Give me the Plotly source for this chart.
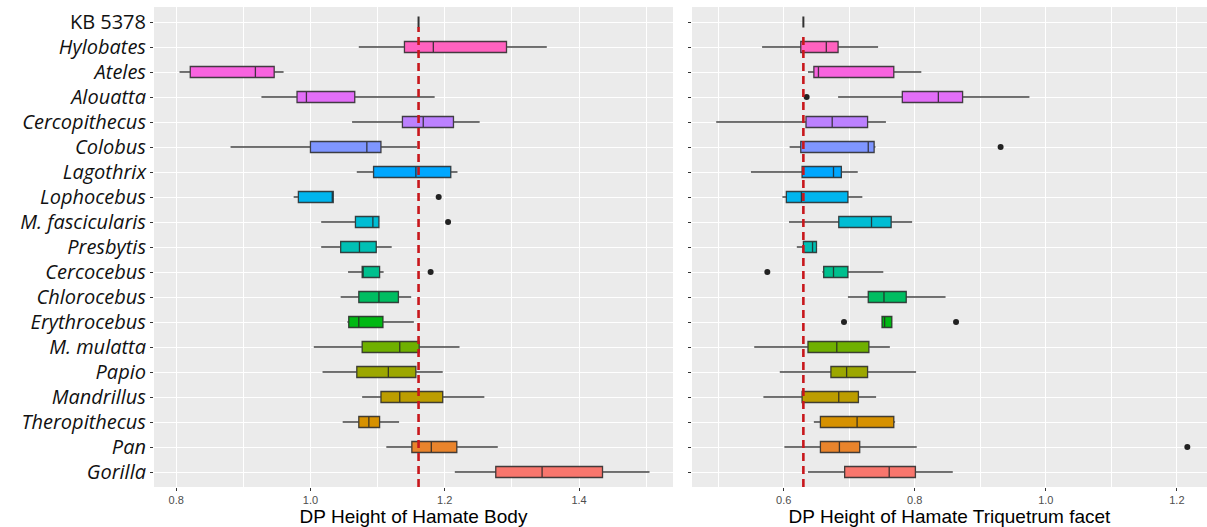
import math
import plotly.graph_objects as go
from plotly.subplots import make_subplots

# Taxa, top to bottom as listed on the axis (KB 5378 sits above them)
taxa = ["Hylobates", "Ateles", "Alouatta", "Cercopithecus", "Colobus", "Lagothrix",
        "Lophocebus", "M. fascicularis", "Presbytis", "Cercocebus", "Chlorocebus",
        "Erythrocebus", "M. mulatta", "Papio", "Mandrillus", "Theropithecus", "Pan", "Gorilla"]
fossil = "KB 5378"

# DP height of hamate body: whisker ends, quartiles, median
body_lo = [1.072, 0.805, 0.927, 1.062, 0.881, 1.069, 0.975, 1.016, 1.016, 1.056, 1.045, 1.055, 1.005, 1.018, 1.077, 1.048, 1.113, 1.215]
body_q1 = [1.140, 0.821, 0.980, 1.137, 1.000, 1.094, 0.982, 1.067, 1.045, 1.077, 1.072, 1.057, 1.077, 1.069, 1.105, 1.072, 1.151, 1.276]
body_med = [1.183, 0.918, 0.994, 1.168, 1.084, 1.157, 1.033, 1.093, 1.073, 1.078, 1.102, 1.072, 1.133, 1.116, 1.133, 1.087, 1.180, 1.345]
body_q3 = [1.292, 0.946, 1.066, 1.213, 1.105, 1.209, 1.034, 1.102, 1.098, 1.103, 1.131, 1.108, 1.162, 1.157, 1.197, 1.103, 1.218, 1.435]
body_hi = [1.352, 0.960, 1.185, 1.252, 1.159, 1.219, 1.034, 1.103, 1.121, 1.109, 1.150, 1.154, 1.222, 1.197, 1.259, 1.132, 1.279, 1.505]
body_out_taxa = ["Lophocebus", "M. fascicularis", "Cercocebus"]
body_out_vals = [1.191, 1.205, 1.179]
body_kb = 1.161

# DP height of hamate triquetrum facet
facet_lo = [0.567, 0.637, 0.683, 0.497, 0.609, 0.550, 0.598, 0.608, 0.620, 0.659, 0.698, 0.750, 0.555, 0.594, 0.569, 0.646, 0.601, 0.637]
facet_q1 = [0.626, 0.646, 0.781, 0.634, 0.626, 0.628, 0.604, 0.684, 0.630, 0.661, 0.729, 0.750, 0.637, 0.672, 0.628, 0.656, 0.656, 0.693]
facet_med = [0.665, 0.653, 0.836, 0.674, 0.729, 0.676, 0.627, 0.734, 0.644, 0.676, 0.753, 0.754, 0.681, 0.696, 0.684, 0.712, 0.685, 0.761]
facet_q3 = [0.683, 0.768, 0.873, 0.728, 0.738, 0.688, 0.698, 0.764, 0.650, 0.698, 0.787, 0.765, 0.730, 0.728, 0.714, 0.768, 0.716, 0.801]
facet_hi = [0.744, 0.810, 0.975, 0.756, 0.740, 0.713, 0.720, 0.796, 0.651, 0.752, 0.847, 0.765, 0.762, 0.802, 0.741, 0.770, 0.803, 0.858]
facet_out_taxa = ["Alouatta", "Colobus", "Cercocebus", "Erythrocebus", "Erythrocebus", "Pan"]
facet_out_vals = [0.635, 0.931, 0.575, 0.692, 0.863, 1.216]
facet_kb = 0.630

body_ticks = [0.8, 1.0, 1.2, 1.4]
facet_ticks = [0.6, 0.8, 1.0, 1.2]


def hcl_hex(h, c=100.0, l=65.0):
    """Polar-Luv colour to sRGB hex (ggplot2 hue palette)."""
    hr = math.radians(h)
    u, v = c * math.cos(hr), c * math.sin(hr)
    xn, yn, zn = 95.047, 100.0, 108.883
    y = yn * ((l + 16) / 116) ** 3
    den = xn + 15 * yn + 3 * zn
    un, vn = 4 * xn / den, 9 * yn / den
    up, vp = u / (13 * l) + un, v / (13 * l) + vn
    x = 9 * y * up / (4 * vp)
    z = -x / 3 - 5 * y + 3 * y / vp
    x, y, z = x / 100, y / 100, z / 100
    rgb = [3.240479 * x - 1.537150 * y - 0.498535 * z,
           -0.969256 * x + 1.875992 * y + 0.041556 * z,
           0.055648 * x - 0.204043 * y + 1.057311 * z]
    out = []
    for ch in rgb:
        ch = 12.92 * ch if ch <= 0.0031308 else 1.055 * ch ** (1 / 2.4) - 0.055
        out.append(int(round(max(0.0, min(1.0, ch)) * 255)))
    return "#%02X%02X%02X" % tuple(out)


# bottom-to-top order on the axis
levels = list(reversed(taxa)) + [fossil]
n = len(levels)
hues = [15 + i * 360 / n for i in range(n)]
colors = {lev: hcl_hex(h) for lev, h in zip(levels, hues)}


def label(t):
    return t if t == fossil else "<i>" + t + "</i>"


fig = make_subplots(rows=1, cols=2, shared_yaxes=False, horizontal_spacing=0.0)

outline = "rgba(38,38,38,0.85)"

panels = [
    (1, body_lo, body_q1, body_med, body_q3, body_hi, body_out_taxa, body_out_vals, body_kb),
    (2, facet_lo, facet_q1, facet_med, facet_q3, facet_hi, facet_out_taxa, facet_out_vals, facet_kb),
]

for col, lo, q1, med, q3, hi, otax, oval, kb in panels:
    for i, t in enumerate(taxa):
        fig.add_trace(go.Box(
            y=[t], orientation="h",
            lowerfence=[lo[i]], q1=[q1[i]], median=[med[i]], q3=[q3[i]], upperfence=[hi[i]],
            fillcolor=colors[t], line=dict(color=outline, width=1.3),
            whiskerwidth=0, width=0.44, boxpoints=False, showlegend=False, hoverinfo="skip",
        ), row=1, col=col)
    # single fossil specimen: a zero-width box
    fig.add_trace(go.Box(
        y=[fossil], orientation="h",
        lowerfence=[kb], q1=[kb], median=[kb], q3=[kb], upperfence=[kb],
        fillcolor="#333333", line=dict(color="#333333", width=2),
        whiskerwidth=0, width=0.44, boxpoints=False, showlegend=False, hoverinfo="skip",
    ), row=1, col=col)
    fig.add_trace(go.Scatter(
        x=oval, y=otax, mode="markers",
        marker=dict(color="#222222", size=6),
        showlegend=False, hoverinfo="skip",
    ), row=1, col=col)

# reference line at the KB 5378 value
for xref, yref, kb, top in [("x", "y", body_kb, n - 1.2), ("x2", "y2", facet_kb, n - 1.5)]:
    fig.add_shape(type="line", xref=xref, yref=yref, x0=kb, x1=kb, y0=-0.6, y1=top,
                  line=dict(color="#C8171C", width=2.6, dash="8px,5px"), layer="above")

grid = "#FFFFFF"
bg = "#EBEBEB"

common_x = dict(
    showgrid=True, gridcolor=grid, gridwidth=1.1, zeroline=False,
    minor=dict(showgrid=True, gridcolor=grid, gridwidth=0.5, dtick=0.1),
    ticks="outside", ticklen=3, tickcolor="#333333", tickwidth=1,
    tickfont=dict(family="Liberation Sans, Arial", size=11, color="#4D4D4D"),
    showline=False, automargin=False,
    title=dict(font=dict(family="Liberation Sans, Arial", size=19, color="#000000"), standoff=3),
)

fig.update_xaxes(common_x)
fig.update_xaxes(range=[0.767, 1.540], tickvals=body_ticks, ticktext=[f"{v:.1f}" for v in body_ticks],
                 tick0=0.8, title_text="DP Height of Hamate Body", domain=[0, 0.4929], row=1, col=1)
fig.update_xaxes(range=[0.460, 1.246], tickvals=facet_ticks, ticktext=[f"{v:.1f}" for v in facet_ticks],
                 tick0=0.6, title_text="DP Height of Hamate Triquetrum facet", domain=[0.5109, 1], row=1, col=2)

common_y = dict(
    categoryorder="array", categoryarray=levels, type="category",
    range=[-0.6, n - 0.4],
    showgrid=True, gridcolor=grid, gridwidth=1.1, zeroline=False,
    ticks="outside", ticklen=3, tickcolor="#333333", tickwidth=1,
    showline=False, automargin=False,
)
fig.update_yaxes(common_y)
fig.update_yaxes(tickvals=levels, ticktext=[label(t) for t in levels],
                 tickfont=dict(family="Open Sans, Lato, sans-serif", size=20, color="#111111"),
                 row=1, col=1)
fig.update_yaxes(showticklabels=False, row=1, col=2)
fig.update_yaxes(matches="y", row=1, col=2)

fig.update_layout(
    width=1207, height=527,
    margin=dict(l=154, r=0, t=7, b=40),
    paper_bgcolor="#FFFFFF", plot_bgcolor=bg,
    boxmode="overlay",
)

fig.write_html("out.html")
